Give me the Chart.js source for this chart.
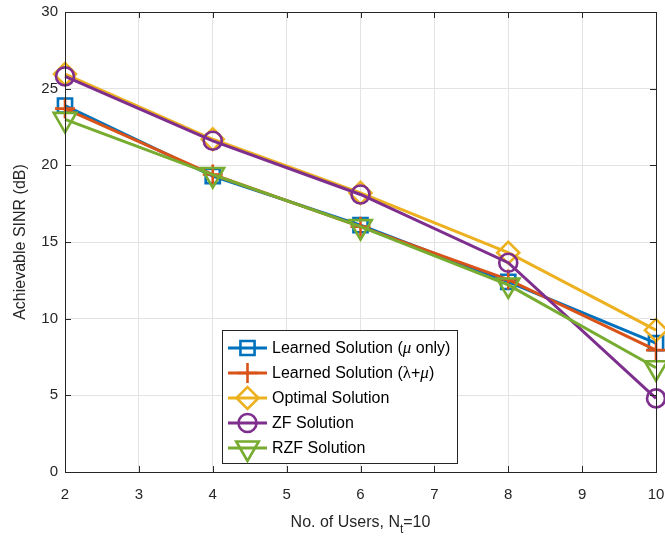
<!DOCTYPE html>
<html><head><meta charset="utf-8">
<script src="https://cdn.jsdelivr.net/npm/chart.js@4.4.1/dist/chart.umd.min.js"></script>
<style>html,body{margin:0;padding:0;background:#fff}#wrap{width:665px;height:538px}</style>
</head><body><div id="wrap"><canvas id="c" width="665" height="538"></canvas></div>
<script>
const users = [2, 4, 6, 8, 10];
const learnedMu = [23.9, 19.3, 16.1, 12.4, 8.4];
const learnedLambdaMu = [23.7, 19.4, 16.0, 12.55, 7.95];
const optimal = [25.95, 21.7, 18.2, 14.3, 9.25];
const zf = [25.8, 21.6, 18.1, 13.65, 4.8];
const rzf = [23.0, 19.4, 16.0, 12.2, 6.8];
const seriesNames = ['Learned Solution (\u03bc only)', 'Learned Solution (\u03bb+\u03bc)', 'Optimal Solution', 'ZF Solution', 'RZF Solution'];
const xTicks = [2, 3, 4, 5, 6, 7, 8, 9, 10];
const yTicks = [0, 5, 10, 15, 20, 25, 30];

const colors = ['#0072BD', '#D95319', '#EDB120', '#7E2F8E', '#77AC30'];
const styles = [
  {pointStyle: 'rect', radius: 10, rotation: 0},
  {pointStyle: 'cross', radius: 10, rotation: 0},
  {pointStyle: 'rectRot', radius: 11, rotation: 0},
  {pointStyle: 'circle', radius: 9, rotation: 0},
  {pointStyle: 'triangle', radius: 13, rotation: 180}
];
const allSeries = [learnedMu, learnedLambdaMu, optimal, zf, rzf];
const FONT = '"Liberation Sans", Arial, Helvetica, sans-serif';
const SERIF = '"Liberation Serif", "Times New Roman", serif';
const TXT = '#262626';

const datasets = allSeries.map((vals, i) => ({
  label: seriesNames[i],
  data: users.map((u, k) => ({x: u, y: vals[k]})),
  borderColor: colors[i],
  backgroundColor: colors[i],
  borderWidth: 3,
  pointStyle: styles[i].pointStyle,
  pointRadius: styles[i].radius,
  pointRotation: styles[i].rotation,
  pointBorderWidth: 2.6,
  pointBackgroundColor: 'rgba(0,0,0,0)',
  pointBorderColor: colors[i],
  tension: 0,
  clip: false,
  order: 5 - i
}));

function drawRich(ctx, text, x, y) {
  let cx = x;
  for (const ch of text) {
    if (ch === '\u03bc') ctx.font = 'italic 17px ' + SERIF;
    else if (ch === '\u03bb') ctx.font = '17px ' + SERIF;
    else ctx.font = '16px ' + FONT;
    ctx.fillText(ch, cx, y);
    cx += ctx.measureText(ch).width;
  }
}

const decor = {
  id: 'decor',
  afterDraw(chart) {
    const ctx = chart.ctx, a = chart.chartArea;
    const xs = chart.scales.x, ys = chart.scales.y;
    ctx.save();
    ctx.strokeStyle = TXT; ctx.lineWidth = 1;
    ctx.strokeRect(Math.round(a.left) + 0.5, Math.round(a.top) + 0.5, Math.round(a.right - a.left), Math.round(a.bottom - a.top));
    ctx.beginPath();
    xTicks.forEach(v => {
      const p = Math.round(xs.getPixelForValue(v)) + 0.5;
      ctx.moveTo(p, a.bottom); ctx.lineTo(p, a.bottom - 6);
      ctx.moveTo(p, a.top); ctx.lineTo(p, a.top + 6);
    });
    yTicks.forEach(v => {
      const p = Math.round(ys.getPixelForValue(v)) + 0.5;
      ctx.moveTo(a.left, p); ctx.lineTo(a.left + 6, p);
      ctx.moveTo(a.right, p); ctx.lineTo(a.right - 6, p);
    });
    ctx.stroke();

    const lx = 222, ly = 330, lw = 235, lh = 133;
    ctx.fillStyle = '#fff';
    ctx.fillRect(lx, ly, lw, lh);
    ctx.strokeStyle = TXT; ctx.lineWidth = 1;
    ctx.strokeRect(lx + 0.5, ly + 0.5, lw, lh);
    seriesNames.forEach((name, i) => {
      const cy = 348 + i * 25;
      ctx.strokeStyle = colors[i]; ctx.lineWidth = 3;
      ctx.beginPath(); ctx.moveTo(228, cy); ctx.lineTo(267, cy); ctx.stroke();
      ctx.lineWidth = 2.6;
      ctx.fillStyle = 'rgba(0,0,0,0)';
      ctx.strokeStyle = colors[i];
      Chart.helpers.drawPoint(ctx, {pointStyle: styles[i].pointStyle, radius: styles[i].radius, rotation: styles[i].rotation, borderWidth: 2.6}, 247.5, cy);
      ctx.fillStyle = '#000';
      ctx.textBaseline = 'middle';
      ctx.textAlign = 'left';
      drawRich(ctx, name, 272, cy + 1);
    });

    ctx.fillStyle = TXT;
    ctx.textBaseline = 'alphabetic';
    const p1 = 'No. of Users, N', p2 = 't', p3 = '=10';
    ctx.font = '16px ' + FONT;
    const w1 = ctx.measureText(p1).width, w3 = ctx.measureText(p3).width;
    ctx.font = '12px ' + FONT;
    const w2 = ctx.measureText(p2).width;
    const total = w1 + w2 + w3;
    let x0 = (a.left + a.right) / 2 - total / 2;
    ctx.textAlign = 'left';
    ctx.font = '16px ' + FONT;
    ctx.fillText(p1, x0, 527);
    ctx.font = '12px ' + FONT;
    ctx.fillText(p2, x0 + w1, 533);
    ctx.font = '16px ' + FONT;
    ctx.fillText(p3, x0 + w1 + w2, 527);

    ctx.save();
    ctx.translate(21, (a.top + a.bottom) / 2);
    ctx.rotate(-Math.PI / 2);
    ctx.textAlign = 'center';
    ctx.textBaseline = 'middle';
    ctx.font = '16px ' + FONT;
    ctx.fillText('Achievable SINR (dB)', 0, 0);
    ctx.restore();
    ctx.restore();
  }
};

new Chart(document.getElementById('c'), {
  type: 'line',
  data: {datasets},
  options: {
    responsive: false,
    animation: false,
    devicePixelRatio: 1,
    layout: {autoPadding: false, padding: {left: 0, right: 9, top: 12, bottom: 0}},
    plugins: {legend: {display: false}, tooltip: {enabled: false}},
    scales: {
      x: {
        type: 'linear', min: 2, max: 10,
        afterBuildTicks: s => { s.ticks = xTicks.map(v => ({value: v})); },
        afterFit: s => { s.height = 66; s.paddingLeft = 0; s.paddingRight = 0; },
        grid: {color: '#e3e3e3', lineWidth: 1, drawTicks: false},
        border: {display: false},
        ticks: {color: TXT, font: {family: FONT, size: 15}, padding: 14, maxRotation: 0, autoSkip: false}
      },
      y: {
        type: 'linear', min: 0, max: 30,
        afterBuildTicks: s => { s.ticks = yTicks.map(v => ({value: v})); },
        afterFit: s => { s.width = 65; s.paddingTop = 0; s.paddingBottom = 0; },
        grid: {color: '#e3e3e3', lineWidth: 1, drawTicks: false},
        border: {display: false},
        ticks: {color: TXT, font: {family: FONT, size: 15}, padding: 7}
      }
    }
  },
  plugins: [decor]
});
</script>
</body></html>
